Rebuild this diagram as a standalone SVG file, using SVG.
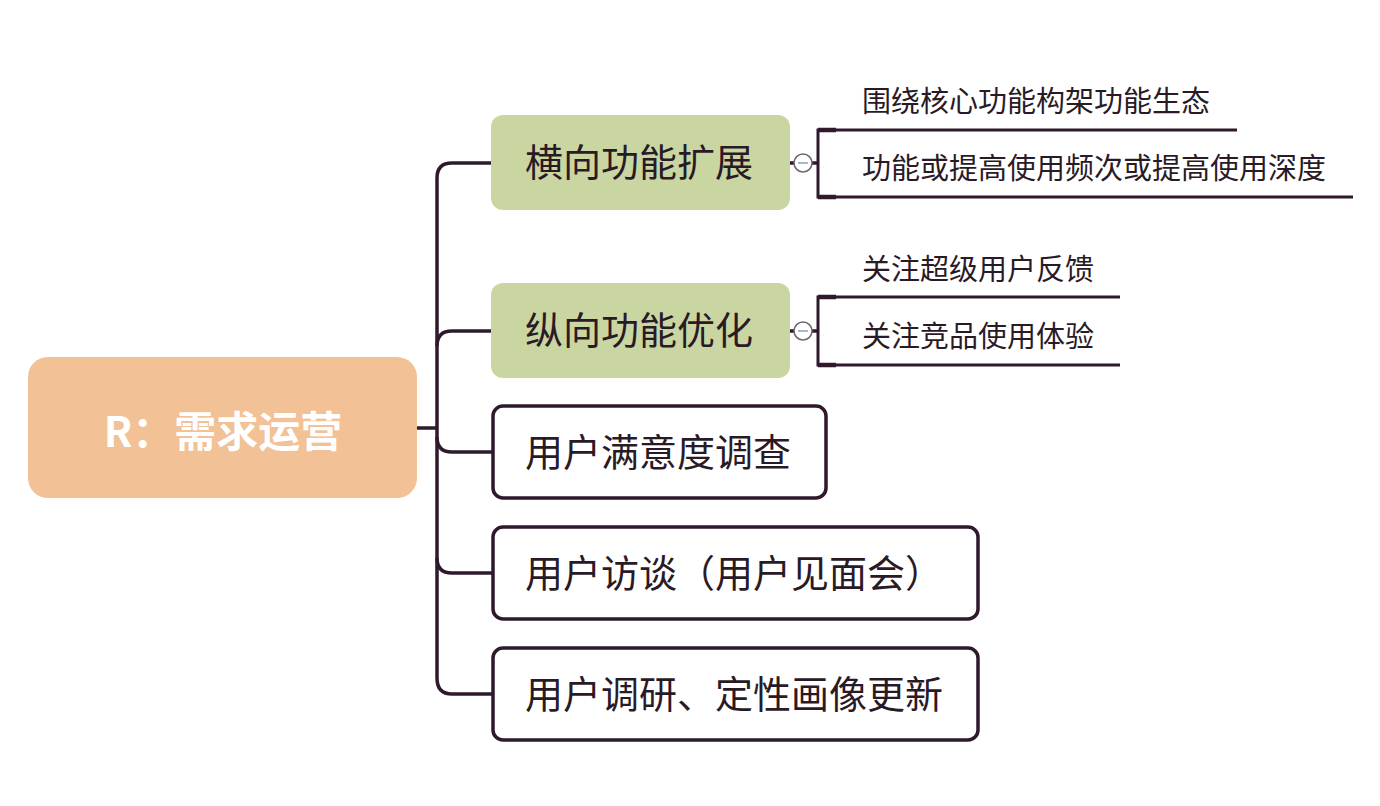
<svg xmlns="http://www.w3.org/2000/svg" width="1380" height="806" viewBox="0 0 1380 806">
<style>
.ln{fill:none;stroke:#2e1a2c;stroke-width:3.5;stroke-linecap:butt}
.br{fill:none;stroke:#2e1a2c;stroke-width:3}
.t{font-family:"Noto Sans CJK SC","Noto Sans",sans-serif;fill:#2a1a26}
.big{font-size:38px}
.sm{font-size:29px}
.green{fill:#c9d6a1}
.box{fill:#ffffff;stroke:#2e1a2c;stroke-width:3.5}
.tog{fill:#ffffff;stroke:#6e6470;stroke-width:1.5}
</style>
<rect width="1380" height="806" fill="#ffffff"/>
<g id="connectors">
<path class="ln" d="M417 428 H437"/>
<path class="ln" d="M491 163 H452 Q437 163 437 178 V678 Q437 694 452 694 H493"/>
<path class="ln" d="M491 331 H452 Q437 331 437 346"/>
<path class="ln" d="M437 437 Q437 452 452 452 H493"/>
<path class="ln" d="M437 558 Q437 573 452 573 H493"/>
<path class="ln" d="M790 163 H794"/>
<path class="ln" d="M812 163 H818"/>
<path class="ln" d="M790 331 H794"/>
<path class="ln" d="M812 331 H818"/>
<path class="br" d="M1237 130 H818 V197 H1353"/>
<path class="br" d="M1120 297 H818 V365 H1120"/>
<path d="M818 130 H836 M818 197 H836 M818 297 H836 M818 365 H836" stroke="#2e1a2c" stroke-width="4.5" fill="none"/>
</g>
<g id="root">
<rect x="28" y="357" width="389" height="141" rx="20" fill="#f2c196"/>
<text x="223" y="447" text-anchor="middle" font-family="Noto Sans CJK SC,sans-serif" font-weight="bold" font-size="42" fill="#ffffff">R：需求运营</text>
</g>
<g id="n1">
<rect class="green" x="491" y="115" width="299" height="95" rx="12"/>
<text class="t big" x="525" y="176">横向功能扩展</text>
<circle class="tog" cx="803" cy="163" r="9"/>
<path d="M798 163 H808" stroke="#8a9cc8" stroke-width="1.5"/>
</g>
<g id="n1a"><text class="t sm" x="862" y="112">围绕核心功能构架功能生态</text></g>
<g id="n1b"><text class="t sm" x="862" y="179">功能或提高使用频次或提高使用深度</text></g>
<g id="n2">
<rect class="green" x="491" y="283" width="299" height="95" rx="12"/>
<text class="t big" x="525" y="344">纵向功能优化</text>
<circle class="tog" cx="803" cy="331" r="9"/>
<path d="M798 331 H808" stroke="#8a9cc8" stroke-width="1.5"/>
</g>
<g id="n2a"><text class="t sm" x="862" y="280">关注超级用户反馈</text></g>
<g id="n2b"><text class="t sm" x="862" y="347">关注竞品使用体验</text></g>
<g id="n3">
<rect class="box" x="493" y="406" width="333" height="92" rx="10"/>
<text class="t big" x="525" y="466">用户满意度调查</text>
</g>
<g id="n4">
<rect class="box" x="493" y="527" width="485" height="92" rx="10"/>
<text class="t big" x="525" y="587">用户访谈（用户见面会）</text>
</g>
<g id="n5">
<rect class="box" x="493" y="648" width="485" height="92" rx="10"/>
<text class="t big" x="525" y="708">用户调研、定性画像更新</text>
</g>
</svg>
